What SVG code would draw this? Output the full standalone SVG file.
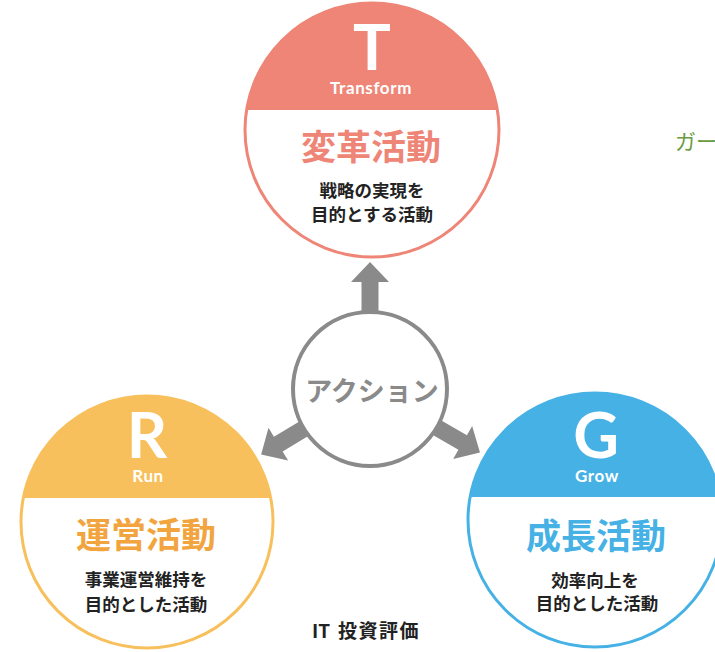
<svg xmlns="http://www.w3.org/2000/svg" width="715" height="652" viewBox="0 0 715 652">
<style>
.lat{font-family:Lato,"Open Sans","Noto Sans",sans-serif;font-weight:700;fill:#fff;text-anchor:middle}
.big{font-size:63px}
.sm{font-size:17px;letter-spacing:0.6px}
.ttl{font-family:"Noto Sans CJK JP","Noto Sans",sans-serif;font-weight:700;font-size:35px;text-anchor:middle}
.sub{font-family:"Noto Sans CJK JP","Noto Sans",sans-serif;font-weight:700;font-size:17.5px;fill:#222;text-anchor:middle}
.ring{fill:#fff;stroke-width:3}
.arr{fill:#8a8a8a}
</style>
<g id="connectors">
<polygon class="arr" transform="translate(370,389)" points="-8.5,-70 8.5,-70 8.5,-107 19,-107 0,-127 -19,-107 -8.5,-107"/>
<polygon class="arr" transform="translate(370,389) rotate(-121)" points="-8.5,-70 8.5,-70 8.5,-107 19,-107 0,-127 -19,-107 -8.5,-107"/>
<polygon class="arr" transform="translate(370,389) rotate(120)" points="-8.5,-70 8.5,-70 8.5,-107 19,-107 0,-127 -19,-107 -8.5,-107"/>
</g>
<g id="action">
<circle cx="370" cy="389" r="77" fill="#fff" stroke="#8a8a8a" stroke-width="4"/>
<text x="372" y="401" font-family="Noto Sans CJK JP,sans-serif" font-weight="700" font-size="27" fill="#8a8a8a" text-anchor="middle">アクション</text>
</g>
<g id="transform">
<circle class="ring" cx="372" cy="130" r="127" stroke="#ee8576"/>
<path d="M246.6,110 A127 127 0 0 1 497.4,110 Z" fill="#ee8576"/>
<text class="lat big" x="372" y="70">T</text>
<text class="lat sm" x="371" y="93.5">Transform</text>
<text class="ttl" x="371" y="160" fill="#ee8576">変革活動</text>
<text class="sub" x="372" y="197">戦略の実現を</text>
<text class="sub" x="372" y="221">目的とする活動</text>
</g>
<g id="run">
<circle class="ring" cx="147" cy="522" r="126" stroke="#f8c05c"/>
<path d="M23.3,498 A126 126 0 0 1 270.7,498 Z" fill="#f8c05c"/>
<text class="lat big" x="147" y="458">R</text>
<text class="lat sm" x="148" y="482">Run</text>
<text class="ttl" x="146" y="548" fill="#f2a43e">運営活動</text>
<text class="sub" x="146" y="586">事業運営維持を</text>
<text class="sub" x="146" y="611">目的とした活動</text>
</g>
<g id="grow">
<circle class="ring" cx="595" cy="520" r="127" stroke="#46b1e5"/>
<path d="M470.1,497 A127 127 0 0 1 719.9,497 Z" fill="#46b1e5"/>
<text class="lat big" x="596" y="458">G</text>
<text class="lat sm" x="597" y="482">Grow</text>
<text class="ttl" x="596" y="549" fill="#46b1e5">成長活動</text>
<text class="sub" x="595" y="587">効率向上を</text>
<text class="sub" x="597" y="610">目的とした活動</text>
</g>
<g id="label-guard">
<text x="675" y="149" font-family="Noto Sans CJK JP,sans-serif" font-size="21" fill="#6a9b3f">ガー</text>
</g>
<g id="label-it">
<text x="312" y="638" font-family="Noto Sans CJK JP,sans-serif" font-weight="700" font-size="19" fill="#222">IT<tspan x="338" letter-spacing="1.5">投資評価</tspan></text>
</g>
</svg>
